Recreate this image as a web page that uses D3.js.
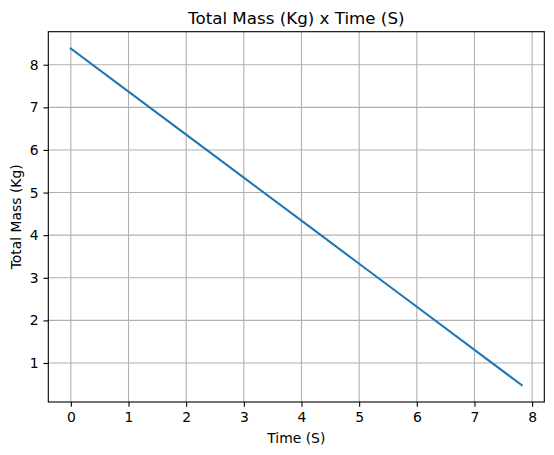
<!DOCTYPE html>
<html><head><meta charset="utf-8">
<script src="https://cdn.jsdelivr.net/npm/d3@7"></script>
<style>body{margin:0;background:#fff}svg{display:block}text{font-family:"DejaVu Sans",sans-serif}</style>
</head><body>
<script>
const time = [0, 1, 2, 3, 4, 5, 6, 7, 7.82];
const mass = [8.38, 7.37, 6.36, 5.35, 4.34, 3.33, 2.32, 1.31, 0.48];
const xTicks = [0, 1, 2, 3, 4, 5, 6, 7, 8];
const yTicks = [1, 2, 3, 4, 5, 6, 7, 8];
const title = "Total Mass (Kg) x Time (S)";
const xLabel = "Time (S)";
const yLabel = "Total Mass (Kg)";

const W = 554, H = 455;
const L = 48.3, R = 544.3, T = 31.7, B = 402;
const svg = d3.select("body").append("svg").attr("width", W).attr("height", H);

const xmin = d3.min(time), xmax = d3.max(time), xm = (xmax - xmin) * 0.05;
const ymin = d3.min(mass), ymax = d3.max(mass), ym = (ymax - ymin) * 0.05;
const x = d3.scaleLinear().domain([xmin - xm, xmax + xm]).range([L, R]);
const y = d3.scaleLinear().domain([ymin - ym, ymax + ym]).range([B, T]);

const g = svg.append("g");
// grid
g.selectAll(".gx").data(xTicks).join("line")
  .attr("x1", d => x(d)).attr("x2", d => x(d)).attr("y1", T).attr("y2", B)
  .attr("stroke", "#b0b0b0").attr("stroke-width", 1.1);
g.selectAll(".gy").data(yTicks).join("line")
  .attr("y1", d => y(d)).attr("y2", d => y(d)).attr("x1", L).attr("x2", R)
  .attr("stroke", "#b0b0b0").attr("stroke-width", 1.1);

// line
svg.append("path").datum(time.map((t, i) => [t, mass[i]]))
  .attr("d", d3.line().x(d => x(d[0])).y(d => y(d[1])))
  .attr("fill", "none").attr("stroke", "#1f77b4").attr("stroke-width", 2.08)
  .attr("stroke-linecap", "square");

// axes
const xa = svg.append("g").attr("transform", `translate(0,${B})`)
  .call(d3.axisBottom(x).tickValues(xTicks).tickSize(4.86).tickPadding(4.9).tickFormat(d3.format("d")));
const ya = svg.append("g").attr("transform", `translate(${L},0)`)
  .call(d3.axisLeft(y).tickValues(yTicks).tickSize(4.86).tickPadding(4.9).tickFormat(d3.format("d")));
[xa, ya].forEach(a => {
  a.select(".domain").remove();
  a.selectAll("line").attr("stroke", "#000").attr("stroke-width", 1.1);
  a.selectAll("text").attr("font-size", 13.9).attr("fill", "#000").style("font-family", "DejaVu Sans");
});

// spines
svg.append("rect").attr("x", L).attr("y", T).attr("width", R - L).attr("height", B - T)
  .attr("fill", "none").attr("stroke", "#000").attr("stroke-width", 1.1);

svg.append("text").attr("x", (L + R) / 2).attr("y", 24).attr("text-anchor", "middle")
  .attr("font-size", 16.7).text(title);
svg.append("text").attr("x", (L + R) / 2).attr("y", 443).attr("text-anchor", "middle")
  .attr("font-size", 13.9).text(xLabel);
svg.append("text").attr("transform", `translate(21,${(T + B) / 2}) rotate(-90)`).attr("text-anchor", "middle")
  .attr("font-size", 13.9).text(yLabel);
</script>
</body></html>
